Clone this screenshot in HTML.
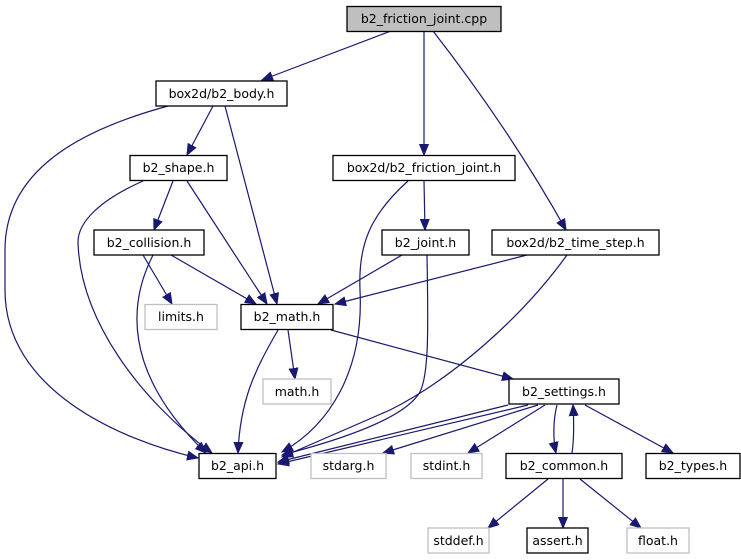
<!DOCTYPE html>
<html><head><style>html,body{margin:0;padding:0;background:#fff}svg{display:block}</style></head><body>
<svg width="741" height="560" viewBox="0 0 741 560" xmlns="http://www.w3.org/2000/svg" font-family="'DejaVu Sans','Liberation Sans',sans-serif" font-size="12.5">
<defs>
<marker id="a" markerUnits="userSpaceOnUse" markerWidth="12" markerHeight="10" refX="11" refY="5" orient="auto">
<path d="M0,0.5 L11,5 L0,9.5 Z" fill="#191970" stroke="#191970"/>
</marker>
</defs>
<g fill="none" stroke="#191970" stroke-width="1.2" marker-end="url(#a)">
<path d="M391,31 L262,80"/>
<path d="M424,31 L424,155"/>
<path d="M433,31 Q510,130 566,230"/>
<path d="M213,106 L187,155"/>
<path d="M225,106 L277,304"/>
<path d="M168,106 C80,130 5,170 5,250 L5,290 C5,390 120,440 198,458"/>
<path d="M173,181 L154,230"/>
<path d="M187,181 L267,304"/>
<path d="M143,181 C100,200 78,222 78,242 C80,320 140,400 212,453"/>
<path d="M143,255 L172,304"/>
<path d="M171,255 L256,304"/>
<path d="M153,255 C130,300 120,370 206,453"/>
<path d="M424,181 L425,230"/>
<path d="M408,181 C370,215 358,245 360,290 C364,370 330,425 282,452"/>
<path d="M402,255 L318,304"/>
<path d="M427,255 C428,320 430,380 418,395 C400,420 340,440 282,455"/>
<path d="M527,255 L335,304"/>
<path d="M567,255 C520,320 450,380 390,410 C340,432 310,445 282,457"/>
<path d="M288,330 L295,379"/>
<path d="M331,330 L513,379"/>
<path d="M278,330 C255,370 240,400 238,453"/>
<path d="M508,405 L278,462"/>
<path d="M528,405 L278,464"/>
<path d="M538,405 L383,453"/>
<path d="M545,405 L468,453"/>
<path d="M557,405 C553,420 553,440 556,453"/>
<path d="M572,453 C574,440 574,420 573,405"/>
<path d="M585,405 L673,453"/>
<path d="M548,479 L488,528"/>
<path d="M563,479 L563,528"/>
<path d="M580,479 L641,528"/>
</g>
<g stroke-width="1.3">
<rect x="347" y="6.5" width="154" height="25" fill="#bfbfbf" stroke="#000"/>
<rect x="156" y="81" width="131" height="25" fill="#fff" stroke="#000"/>
<rect x="130" y="155.5" width="97" height="25" fill="#fff" stroke="#000"/>
<rect x="333" y="155.5" width="182" height="25" fill="#fff" stroke="#000"/>
<rect x="94" y="230" width="110" height="25" fill="#fff" stroke="#000"/>
<rect x="382" y="230" width="87" height="25" fill="#fff" stroke="#000"/>
<rect x="492" y="230" width="167" height="25" fill="#fff" stroke="#000"/>
<rect x="145" y="304.5" width="72" height="25" fill="#fff" stroke="#bfbfbf"/>
<rect x="241" y="304.5" width="92" height="25" fill="#fff" stroke="#000"/>
<rect x="263" y="379" width="68" height="25" fill="#fff" stroke="#bfbfbf"/>
<rect x="509" y="379" width="110" height="25" fill="#fff" stroke="#000"/>
<rect x="199" y="453.5" width="77" height="25" fill="#fff" stroke="#000"/>
<rect x="311" y="453.5" width="75" height="25" fill="#fff" stroke="#bfbfbf"/>
<rect x="411" y="453.5" width="71" height="25" fill="#fff" stroke="#bfbfbf"/>
<rect x="506" y="453.5" width="116" height="25" fill="#fff" stroke="#000"/>
<rect x="646" y="453.5" width="94" height="25" fill="#fff" stroke="#000"/>
<rect x="428" y="528" width="61" height="25" fill="#fff" stroke="#bfbfbf"/>
<rect x="527" y="528" width="61" height="25" fill="#fff" stroke="#000"/>
<rect x="627" y="528" width="62" height="25" fill="#fff" stroke="#bfbfbf"/>
</g>
<g fill="#000" text-anchor="middle">
<text x="424" y="23">b2_friction_joint.cpp</text>
<text x="221.5" y="98">box2d/b2_body.h</text>
<text x="178.5" y="172">b2_shape.h</text>
<text x="424" y="172">box2d/b2_friction_joint.h</text>
<text x="149" y="247">b2_collision.h</text>
<text x="425.5" y="247">b2_joint.h</text>
<text x="575.5" y="247">box2d/b2_time_step.h</text>
<text x="181" y="321">limits.h</text>
<text x="287" y="321">b2_math.h</text>
<text x="297" y="396">math.h</text>
<text x="564" y="396">b2_settings.h</text>
<text x="237.5" y="470">b2_api.h</text>
<text x="348.5" y="470">stdarg.h</text>
<text x="446.5" y="470">stdint.h</text>
<text x="564" y="470">b2_common.h</text>
<text x="693" y="470">b2_types.h</text>
<text x="458.5" y="545">stddef.h</text>
<text x="557.5" y="545">assert.h</text>
<text x="658" y="545">float.h</text>
</g>
</svg>
</body></html>
